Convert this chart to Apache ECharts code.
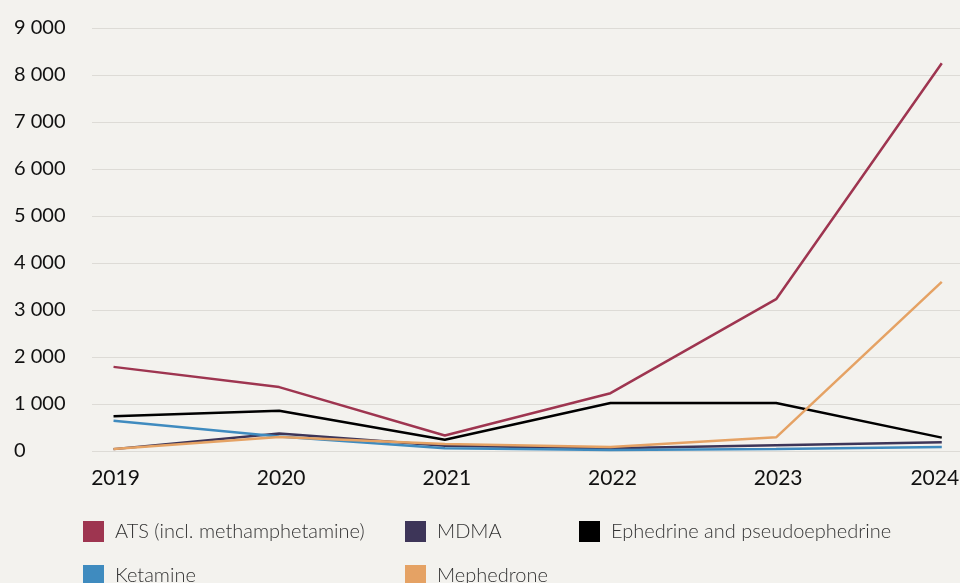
<!DOCTYPE html>
<html><head><meta charset="utf-8">
<script src="https://cdn.jsdelivr.net/npm/echarts@6/dist/echarts.min.js"></script>
<style>html,body{margin:0;padding:0;background:#f3f2ee}#c{width:960px;height:583px}</style>
</head><body><div id="c"></div>
<script>
const years = [2019, 2020, 2021, 2022, 2023, 2024];
const ats = [1790, 1360, 330, 1230, 3230, 8250];
const mdma = [40, 370, 110, 60, 120, 185];
const ephedrine = [740, 855, 240, 1020, 1020, 285];
const ketamine = [645, 310, 60, 20, 40, 85];
const mephedrone = [40, 300, 150, 85, 290, 3600];
const yTicks = [0, 1000, 2000, 3000, 4000, 5000, 6000, 7000, 8000, 9000];

const seriesDefs = [
  {name: 'ATS (incl. methamphetamine)', data: ats, color: '#9e3550'},
  {name: 'MDMA', data: mdma, color: '#3d3558'},
  {name: 'Ephedrine and pseudoephedrine', data: ephedrine, color: '#000000'},
  {name: 'Ketamine', data: ketamine, color: '#3f8bbf'},
  {name: 'Mephedrone', data: mephedrone, color: '#e5a264'}
];
const legendPos = [[78, 516], [400, 516], [574, 516], [78, 560], [400, 560]];

const chart = echarts.init(document.getElementById('c'));
chart.setOption({
  backgroundColor: '#f3f2ee',
  animation: false,
  textStyle: {fontFamily: 'Lato'},
  grid: {left: 92, right: 0, top: 28, bottom: 132, containLabel: false, outerBoundsMode: 'none'},
  legend: seriesDefs.map((s, i) => ({
    data: [s.name], left: legendPos[i][0], top: legendPos[i][1],
    icon: 'rect', itemWidth: 21, itemHeight: 21, itemGap: 10,
    textStyle: {fontFamily: 'Lato', fontSize: 20, fontWeight: 300, color: '#333', padding: [0, 0, 0, 6]}
  })),
  xAxis: {
    type: 'value', min: 2018.87, max: 2024.11,
    axisLine: {show: false}, axisTick: {show: false}, splitLine: {show: false},
    axisLabel: {
      customValues: years,
      formatter: v => (v === years[years.length - 1] ? '{last|' + v + '}' : '{n|' + v + '}'),
      fontSize: 21, color: '#111', margin: 17,
      rich: {
        n: {fontSize: 21, color: '#111', fontFamily: 'Lato', padding: [0, 0, 0, 4]},
        last: {fontSize: 21, color: '#111', fontFamily: 'Lato', padding: [0, 14, 0, 0]}
      }
    }
  },
  yAxis: {
    type: 'value', min: 0, max: 9000, interval: 1000,
    axisLine: {show: false}, axisTick: {show: false},
    splitLine: {lineStyle: {color: '#dddbd6', width: 1}},
    axisLabel: {
      fontSize: 20, color: '#111', align: 'left', margin: 78,
      formatter: v => String(v).replace(/\B(?=(\d{3})+(?!\d))/g, ' ')
    }
  },
  series: seriesDefs.map(s => ({
    name: s.name, type: 'line', symbol: 'none',
    data: years.map((y, i) => [y, s.data[i]]),
    lineStyle: {color: s.color, width: 2.5},
    itemStyle: {color: s.color}
  }))
});
</script></body></html>
